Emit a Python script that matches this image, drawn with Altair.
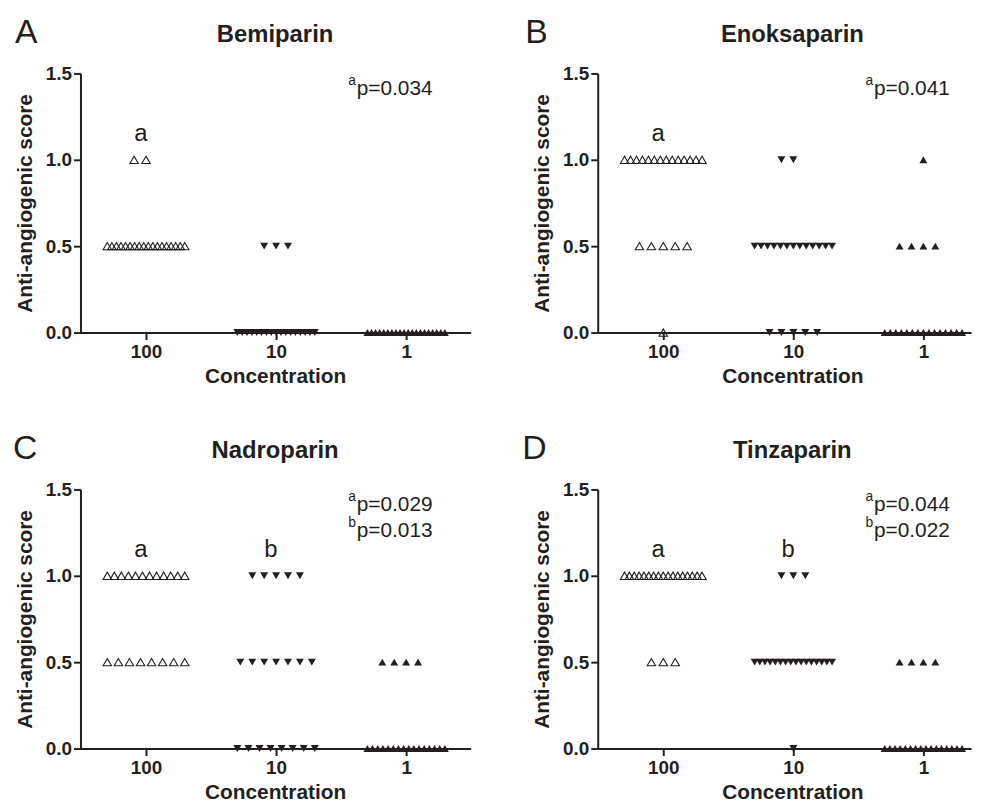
import altair as alt
import pandas as pd

# ---------------- data ----------------
drugs = ["Bemiparin", "Enoksaparin", "Nadroparin", "Tinzaparin"]
panel_letters = ["A", "B", "C", "D"]
concentrations = ["100", "10", "1"]
score_levels = [0.0, 0.5, 1.0]

# number of eggs at score 0.0 / 0.5 / 1.0 for each concentration
bemiparin_counts = {"100": [0, 18, 2], "10": [17, 3, 0], "1": [20, 0, 0]}
enoksaparin_counts = {"100": [1, 5, 14], "10": [5, 13, 2], "1": [15, 4, 1]}
nadroparin_counts = {"100": [0, 8, 12], "10": [8, 7, 5], "1": [16, 4, 0]}
tinzaparin_counts = {"100": [0, 3, 17], "10": [1, 16, 3], "1": [16, 4, 0]}
all_counts = [bemiparin_counts, enoksaparin_counts, nadroparin_counts, tinzaparin_counts]

# significance letters above groups
bemiparin_marks = {"100": "a"}
enoksaparin_marks = {"100": "a"}
nadroparin_marks = {"100": "a", "10": "b"}
tinzaparin_marks = {"100": "a", "10": "b"}
all_marks = [bemiparin_marks, enoksaparin_marks, nadroparin_marks, tinzaparin_marks]

# p-values
bemiparin_p = [("a", "0.034")]
enoksaparin_p = [("a", "0.041")]
nadroparin_p = [("a", "0.029"), ("b", "0.013")]
tinzaparin_p = [("a", "0.044"), ("b", "0.022")]
all_p = [bemiparin_p, enoksaparin_p, nadroparin_p, tinzaparin_p]

# ---------------- layout / style ----------------
INK = "#231f20"
FONT = "Liberation Sans"
PX_PER_UNIT = 131.0  # pixels per concentration category
LEFT_W, RIGHT_W, H = 393, 376, 261


def spread(n):
    """GraphPad-like horizontal scatter of n identical values (category units)."""
    step, maxw = 12.0, 78.0
    if n <= 0:
        return []
    if (n - 1) * step <= maxw:
        order = [0]
        k = 1
        while len(order) < n:
            order.append(-k)
            if len(order) < n:
                order.append(k)
            k += 1
        px = [o * step for o in order]
    else:
        s = maxw / (n - 1)
        px = [-maxw / 2 + i * s for i in range(n)]
    return [p / PX_PER_UNIT for p in px]


def panel(i, width):
    counts = all_counts[i]
    rows = []
    for ci, conc in enumerate(concentrations):
        for level, n in zip(score_levels, counts[conc]):
            for off in spread(n):
                rows.append({"conc": conc, "pos": ci + off, "score": level})
    df = pd.DataFrame(rows)

    x_dom = [-0.504, width / PX_PER_UNIT - 0.504]
    xenc = alt.X(
        "pos:Q",
        scale=alt.Scale(domain=x_dom, nice=False, zero=False),
        axis=alt.Axis(
            values=[0, 1, 2],
            labelExpr="datum.value == 0 ? '100' : datum.value == 1 ? '10' : '1'",
            title="Concentration",
            titleX=196,
            labelPadding=3,
            titlePadding=4,
            zindex=1,
        ),
    )
    yenc = alt.Y(
        "score:Q",
        scale=alt.Scale(domain=[0, 1.5], nice=False),
        axis=alt.Axis(values=[0, 0.5, 1.0, 1.5], format=".1f",
                      title="Anti-angiogenic score", titlePadding=10, labelPadding=2),
    )

    base = alt.Chart(df)
    open_pts = base.transform_filter(alt.datum.conc == "100").mark_point(
        shape="triangle-up", filled=False, size=72, stroke=INK, strokeWidth=1.1, opacity=1
    ).encode(x=xenc, y=yenc)
    filled_pts = base.transform_filter(alt.datum.conc != "100").mark_point(
        filled=True, size=64, color=INK, opacity=1
    ).encode(
        x=xenc,
        y=yenc,
        shape=alt.Shape("conc:N", scale=alt.Scale(domain=["10", "1"],
                        range=["triangle-down", "triangle-up"]), legend=None),
    )

    # group letters
    marks = all_marks[i]
    mdf = pd.DataFrame([{"pos": concentrations.index(c) - 0.04, "score": 1.11, "t": t}
                        for c, t in marks.items()])
    letters = alt.Chart(mdf).mark_text(
        font=FONT, fontSize=24, color=INK, align="center", baseline="alphabetic"
    ).encode(x="pos:Q", y="score:Q", text="t:N")

    # p-values
    pv = all_p[i]
    line_base = [1.375, 1.222]
    sup_base = [1.435, 1.284]
    pdf = pd.DataFrame([{"pos": 1.62, "score": line_base[k], "t": "p=" + v} for k, (s, v) in enumerate(pv)])
    sdf = pd.DataFrame([{"pos": 1.555, "score": sup_base[k], "t": s} for k, (s, v) in enumerate(pv)])
    ptext = alt.Chart(pdf).mark_text(
        font=FONT, fontSize=21, color=INK, align="left", baseline="alphabetic"
    ).encode(x="pos:Q", y="score:Q", text="t:N")
    stext = alt.Chart(sdf).mark_text(
        font=FONT, fontSize=14, color=INK, align="left", baseline="alphabetic"
    ).encode(x="pos:Q", y="score:Q", text="t:N")

    # panel letter and panel title
    letter_dx = [-66, -73, -68, -76][i]
    ldf = pd.DataFrame([{"t": panel_letters[i], "name": drugs[i]}])
    ptag = alt.Chart(ldf).mark_text(
        font=FONT, fontSize=34, color=INK, align="left", baseline="alphabetic"
    ).encode(x=alt.value(letter_dx), y=alt.value(-31), text="t:N")
    ptitle = alt.Chart(ldf).mark_text(
        font=FONT, fontSize=24, fontWeight="bold", color=INK, align="center", baseline="alphabetic"
    ).encode(x=alt.value(196), y=alt.value(-32), text="name:N")

    return alt.layer(open_pts, filled_pts, letters, ptext, stext, ptag, ptitle).properties(
        width=width,
        height=H,
    )


chart = alt.concat(
    panel(0, LEFT_W), panel(1, RIGHT_W), panel(2, LEFT_W), panel(3, RIGHT_W),
    columns=2,
    spacing={"row": 158, "column": 128},
    bounds="flush",
).configure_view(stroke=None).configure_axis(
    grid=False,
    domainColor=INK, domainWidth=2,
    tickColor=INK, tickWidth=2, tickSize=7,
    labelFont=FONT, labelFontSize=19, labelFontWeight="bold", labelColor=INK,
    titleFont=FONT, titleFontSize=21, titleFontWeight="bold", titleColor=INK,
)

chart.save("out.html", embed_options={"renderer": "svg", "actions": False})
